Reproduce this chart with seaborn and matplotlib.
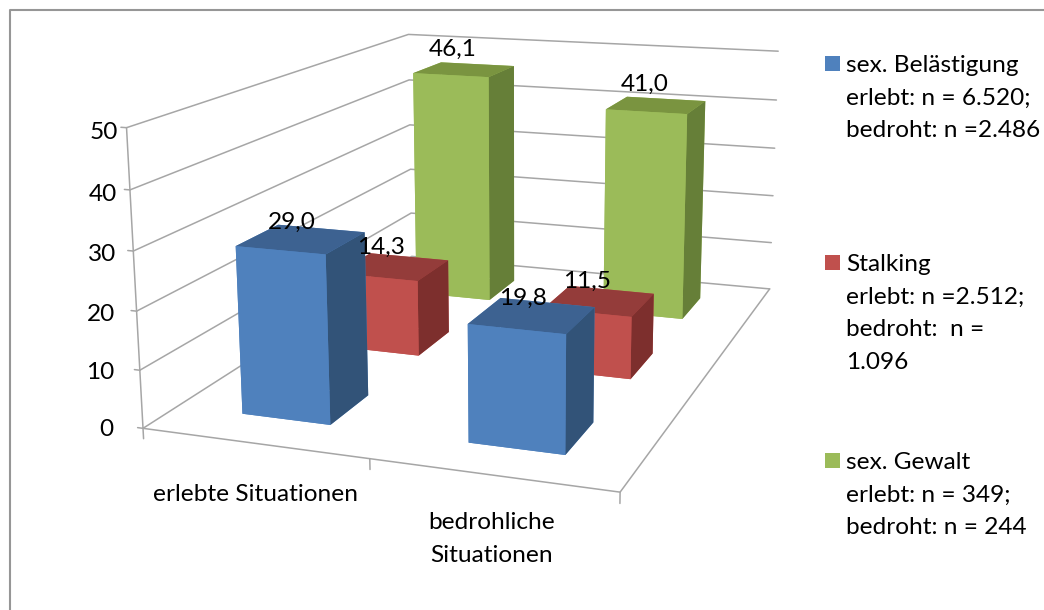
import matplotlib
matplotlib.use('Agg')
import matplotlib.pyplot as plt
from matplotlib.lines import Line2D
from matplotlib.patches import Rectangle
import seaborn as sns

sns.set_theme(style='white')
plt.rcParams['font.family'] = ['Lato', 'DejaVu Sans']

categories = ['erlebte Situationen', 'bedrohliche\nSituationen']
belaestigung = [29.0, 19.8]
stalking = [14.3, 11.5]
gewalt = [46.1, 41.0]
z_ticks = [0, 10, 20, 30, 40, 50]
legend_blocks = [
    ['sex. Belästigung', 'erlebt: n = 6.520;', 'bedroht: n =2.486'],
    ['Stalking', 'erlebt: n =2.512;', 'bedroht:  n =', '1.096'],
    ['sex. Gewalt', 'erlebt: n = 349;', 'bedroht: n = 244'],
]

series = [belaestigung, stalking, gewalt]
# front, top, side
shades = [('#4F81BD', '#3D6291', '#325378'),
          ('#C0504D', '#943C3A', '#7D2F2D'),
          ('#9BBB59', '#7A9440', '#667F38')]
grid_c = '#A6A6A6'
fs = 17.6
# small nudges of the value labels, per series
label_dz = [1, 1.5, 1.9]
label_dx = [0.46, 0.44, 0.44]

W, H = 1044, 610
fig = plt.figure(figsize=(W/100, H/100), dpi=100)
fx = lambda x: x/W
fy = lambda y: 1-y/H

S = 900
ax = fig.add_axes([32/W, -72/H, S/W, S/H], projection='3d', computed_zorder=False)
ax.set_proj_type('persp', focal_length=0.3554)
ax.view_init(elev=13.75, azim=-70.2, roll=0.2)
ax.set_xlim(0, 2, view_margin=0)
ax.set_ylim(0, 3, view_margin=0)
ax.set_zlim(0, 50, view_margin=0)
ax.set_box_aspect((2.54, 3.62, 1.57), zoom=0.8810)
ax.set_xticks([])
ax.set_yticks([])
ax.set_zticks([])
ax.set_axis_off()

# walls
for z in z_ticks:
    ax.plot([0, 0, 2], [0, 3, 3], [z, z, z], color=grid_c, lw=1.1, zorder=1)
    ax.plot([-0.025, 0], [0, 0], [z, z], color=grid_c, lw=1.1, zorder=1)
    ax.text(-0.04-(50-z)/50*0.1, 0, z-0.9, str(z), ha='right', va='center', fontsize=fs,
            color='black', zorder=30)
ax.plot([0, 0], [0, 0], [0, 50], color=grid_c, lw=1.1, zorder=1)
ax.plot([0, 2, 2], [0, 0, 3], [0, 0, 0], color=grid_c, lw=1.1, zorder=1)
for t in [0, 1, 2]:
    ax.plot([t, t], [0, 0], [0, -1.8], color=grid_c, lw=1.1, zorder=1)

# bars, back to front
n = 2
for s in [2, 1, 0]:
    front, top, side = shades[s]
    for i, v in enumerate(series[s]):
        ax.bar3d(i+0.3, s+0.3, 0, 0.4, 0.4, v, color=[front, top, front, front, front, side],
                 shade=False, edgecolor='none', linewidth=0, zorder=n)
        n += 1

for s in [2, 1, 0]:
    for i, v in enumerate(series[s]):
        ax.text(i+label_dx[s], s+0.5, v+label_dz[s], f'{v:.1f}'.replace('.', ','), ha='center', va='bottom',
                fontsize=fs, color='black', zorder=30)

ax.text(0.5, 0, -6.9, categories[0], ha='center', va='top', fontsize=fs, color='black', zorder=30)
ax.text(1.5, 0, -6.0, categories[1], ha='center', va='top', fontsize=fs, color='black',
        linespacing=1.7, zorder=30)

# legend
tops = [64, 263, 461]
for block, top_y, sh in zip(legend_blocks, tops, shades):
    fig.add_artist(Rectangle((fx(825), fy(top_y+7)), 15/W, 15/H, transform=fig.transFigure,
                             facecolor=sh[0], edgecolor='none'))
    for k, line in enumerate(block):
        fig.text(fx(846), fy(top_y+1.5+k*32.7), line, ha='left', va='center', fontsize=fs, color='black')

# chart frame: only the left and top edge are inside the picture
fig.add_artist(Line2D([fx(10), fx(10), 1], [0, fy(10), fy(10)], transform=fig.transFigure,
                      color='#969696', lw=1.5))

fig.savefig('out.png', dpi=100)
